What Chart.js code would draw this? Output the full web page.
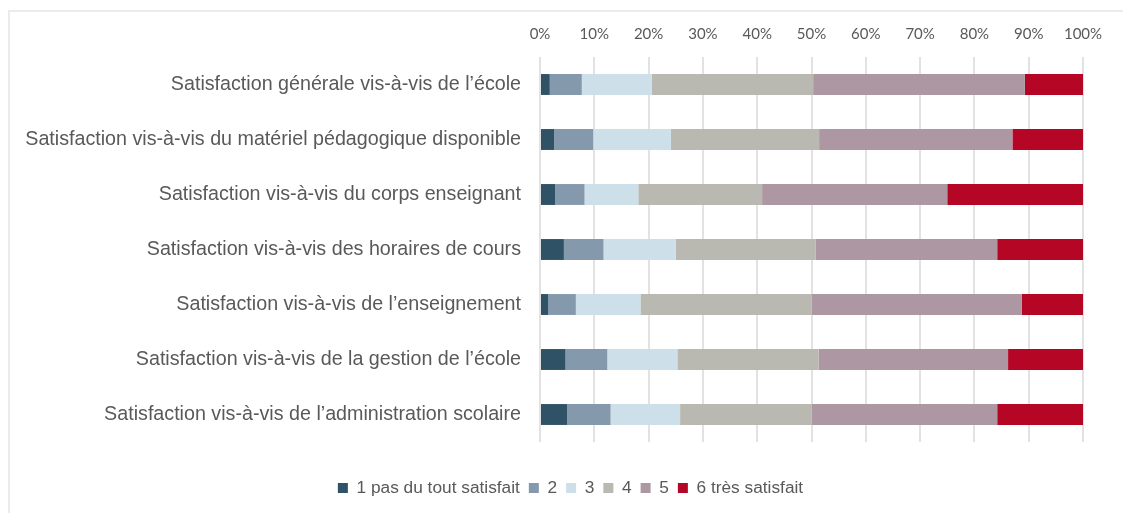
<!DOCTYPE html>
<html>
<head>
<meta charset="utf-8">
<script src="https://cdn.jsdelivr.net/npm/chart.js@4"></script>
<style>
	body { margin: 0; background: #fff; }
	.frame {
		position: absolute;
		left: 8px;
		top: 10px;
		width: 1200px;
		height: 600px;
		border-top: 2px solid #ebebeb;
		border-left: 2px solid #ebebeb;
	}
	.holder { position: absolute; left: 0; top: 0; width: 1123px; height: 513px; }
</style>
</head>
<body>
<div class="frame"></div>
<div class="holder"><canvas id="chart" width="1123" height="513"></canvas></div>
<script>
const categories = [
	"Satisfaction générale vis-à-vis de l’école",
	"Satisfaction vis-à-vis du matériel pédagogique disponible",
	"Satisfaction vis-à-vis du corps enseignant",
	"Satisfaction vis-à-vis des horaires de cours",
	"Satisfaction vis-à-vis de l’enseignement",
	"Satisfaction vis-à-vis de la gestion de l’école",
	"Satisfaction vis-à-vis de l’administration scolaire",
];

const seriesNames = ["1 pas du tout satisfait", "2", "3", "4", "5", "6 très satisfait"];
const seriesColors = ["#2f5266", "#8599ad", "#cde0ea", "#b9b9b1", "#ad97a3", "#b60626"];

// percentages, one array per answer level, in category order
const level1 = [1.8, 2.6, 2.8, 4.4, 1.5, 4.7, 5.0];
const level2 = [5.9, 7.2, 5.4, 7.3, 5.1, 7.7, 8.0];
const level3 = [12.9, 14.3, 9.9, 13.3, 11.9, 12.9, 12.8];
const level4 = [29.7, 27.3, 22.8, 25.8, 31.5, 26.0, 24.2];
const level5 = [39.0, 35.6, 34.1, 33.4, 38.7, 34.9, 34.2];
const level6 = [10.7, 13.0, 25.0, 15.8, 11.3, 13.8, 15.8];

const tickValues = [0, 10, 20, 30, 40, 50, 60, 70, 80, 90, 100];

const levels = [level1, level2, level3, level4, level5, level6];

new Chart(document.getElementById("chart").getContext("2d"), {
	type: "bar",
	data: {
		labels: categories,
		datasets: levels.map((values, i) => ({
			label: seriesNames[i],
			data: values,
			backgroundColor: seriesColors[i],
			borderWidth: 0,
			categoryPercentage: 1,
			barPercentage: 0.38,
		})),
	},
	options: {
		indexAxis: "y",
		responsive: false,
		animation: false,
		layout: { padding: { left: 18, right: 0, top: 0, bottom: 6.35 } },
		scales: {
			x: {
				position: "top",
				stacked: true,
				min: 0,
				max: 100,
				afterBuildTicks: (scale) => {
					scale.ticks = tickValues.map((v) => ({ value: v }));
				},
				afterFit: (scale) => {
					scale.height = 57;
				},
				grid: { color: "#e2e2e2", lineWidth: 2, drawTicks: false },
				border: { display: false },
				ticks: {
					padding: 13.5,
					color: "#595959",
					font: { family: "Lato", size: 15 },
					callback: (v) => v + "%",
				},
			},
			y: {
				stacked: true,
				afterFit: (scale) => {
					scale.width = 522;
				},
				grid: { display: false, drawTicks: false },
				border: { display: false },
				ticks: {
					padding: 19,
					color: "#595959",
					font: { family: "Liberation Sans", size: 19.7 },
				},
			},
			// empty right-hand gutter, keeps the plot narrower than the legend row
			gutter: {
				axis: "y",
				position: "right",
				afterFit: (scale) => {
					scale.width = 40;
				},
				grid: { display: false },
				border: { display: false },
				ticks: { display: false },
			},
		},
		plugins: {
			tooltip: { enabled: false },
			legend: {
				position: "bottom",
				title: { display: true, text: " ", font: { size: 1 }, padding: { top: 27.15, bottom: 0 } },
				labels: {
					boxWidth: 10,
					boxHeight: 10,
					padding: 9,
					color: "#595959",
					font: { family: "Liberation Sans", size: 17.3 },
				},
			},
		},
	},
});
</script>
</body>
</html>
